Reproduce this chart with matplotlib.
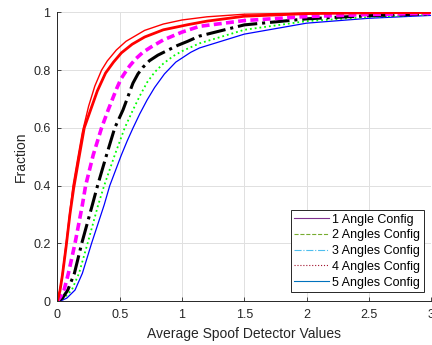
import matplotlib
matplotlib.use("Agg")
import matplotlib.pyplot as plt
from matplotlib.lines import Line2D

plt.rcParams['font.family'] = ['Liberation Sans', 'DejaVu Sans']

# curves (x, fraction)
red_thin_x = [0, 0.02, 0.04, 0.07, 0.1, 0.125, 0.165, 0.2, 0.25, 0.3, 0.354, 0.4, 0.473, 0.55, 0.7, 0.85, 1.0, 1.2, 1.5, 2.0, 2.5, 3.0]
red_thin_y = [0, 0.04, 0.096, 0.2, 0.31, 0.4, 0.5, 0.585, 0.675, 0.745, 0.8, 0.832, 0.87, 0.9, 0.938, 0.96, 0.974, 0.985, 0.994, 0.998, 0.999, 1.0]

red_thick_x = [0, 0.02, 0.04, 0.07, 0.1, 0.13, 0.17, 0.215, 0.26, 0.32, 0.386, 0.45, 0.513, 0.6, 0.7, 0.85, 1.05, 1.2, 1.5, 2.0, 2.5, 3.0]
red_thick_y = [0, 0.035, 0.09, 0.19, 0.3, 0.39, 0.49, 0.6, 0.655, 0.728, 0.79, 0.828, 0.86, 0.89, 0.915, 0.94, 0.958, 0.97, 0.987, 0.996, 0.999, 1.0]

mag_x = [0, 0.025, 0.053, 0.088, 0.141, 0.2, 0.226, 0.287, 0.354, 0.407, 0.474, 0.51, 0.54, 0.58, 0.63, 0.686, 0.75, 0.85, 1.0, 1.14, 1.5, 2.0, 2.5, 3.0]
mag_y = [0, 0.015, 0.038, 0.096, 0.2, 0.333, 0.4, 0.506, 0.6, 0.662, 0.735, 0.77, 0.79, 0.815, 0.84, 0.862, 0.88, 0.905, 0.932, 0.952, 0.972, 0.986, 0.993, 0.997]

blk_x = [0, 0.04, 0.083, 0.136, 0.195, 0.28, 0.322, 0.394, 0.46, 0.526, 0.606, 0.646, 0.686, 0.739, 0.806, 0.885, 0.965, 1.045, 1.138, 1.5, 2.0, 2.5, 3.0]
blk_y = [0, 0.01, 0.038, 0.096, 0.2, 0.333, 0.4, 0.506, 0.6, 0.662, 0.755, 0.787, 0.81, 0.833, 0.852, 0.869, 0.886, 0.9, 0.918, 0.957, 0.978, 0.989, 0.995]

grn_x = [0, 0.05, 0.115, 0.173, 0.242, 0.327, 0.375, 0.46, 0.54, 0.606, 0.66, 0.72, 0.78, 0.85, 0.93, 1.0, 1.14, 1.5, 2.0, 2.5, 3.0]
grn_y = [0, 0.01, 0.038, 0.096, 0.2, 0.333, 0.4, 0.506, 0.6, 0.662, 0.71, 0.758, 0.793, 0.823, 0.849, 0.866, 0.893, 0.94, 0.97, 0.984, 0.993]

blu_x = [0, 0.04, 0.075, 0.141, 0.2, 0.274, 0.375, 0.42, 0.513, 0.56, 0.607, 0.66, 0.72, 0.78, 0.859, 0.95, 1.07, 1.14, 1.5, 2.0, 2.5, 3.0]
blu_y = [0, 0.003, 0.01, 0.038, 0.096, 0.2, 0.333, 0.4, 0.506, 0.555, 0.6, 0.648, 0.697, 0.74, 0.787, 0.828, 0.862, 0.877, 0.925, 0.963, 0.98, 0.99]

legend_labels = ['1 Angle Config', '2 Angles Config', '3 Angles Config', '4 Angles Config', '5 Angles Config']
legend_colors = [(0.494, 0.184, 0.556), (0.466, 0.674, 0.188), (0.301, 0.745, 0.933), (0.635, 0.078, 0.184), (0, 0.447, 0.741)]
legend_styles = ['-', '--', '-.', ':', '-']

txt = (0.15, 0.15, 0.15)

fig = plt.figure(figsize=(4.32, 3.45), dpi=100)
ax = fig.add_axes([0.133, 0.1275, 0.865, 0.8363])

ax.plot(blu_x, blu_y, color=(0, 0, 1), lw=0.9)
ax.plot(grn_x, grn_y, color=(0, 1, 0), lw=1.3, ls=':')
ax.plot(blk_x, blk_y, color='k', lw=2.2, ls='-.')
ax.plot(mag_x, mag_y, color=(1, 0, 1), lw=2.6, ls='--', dashes=(2.2, 1.2))
ax.plot(red_thick_x, red_thick_y, color=(1, 0, 0), lw=2.0)
ax.plot(red_thin_x, red_thin_y, color=(1, 0, 0), lw=1.0)

ax.set_xlim(0, 3)
ax.set_ylim(0, 1)
ax.set_xticks([0, 0.5, 1, 1.5, 2, 2.5, 3])
ax.set_xticklabels(['0', '0.5', '1', '1.5', '2', '2.5', '3'])
ax.set_yticks([0, 0.2, 0.4, 0.6, 0.8, 1])
ax.set_yticklabels(['0', '0.2', '0.4', '0.6', '0.8', '1'])
ax.tick_params(direction='in', length=3, width=0.6, colors=txt, labelsize=9)
ax.tick_params(axis='x', pad=6)
ax.tick_params(axis='y', pad=5)
ax.grid(True, color=(0.88, 0.88, 0.88), lw=0.7)
ax.set_axisbelow(True)
for s in ['top', 'right']:
    ax.spines[s].set_visible(False)
for s in ['left', 'bottom']:
    ax.spines[s].set_color(txt)
    ax.spines[s].set_linewidth(0.7)

ax.set_xlabel('Average Spoof Detector Values', fontsize=10, color=txt, labelpad=4)
ax.set_ylabel('Fraction', fontsize=10, color=txt, labelpad=4)

handles = [Line2D([0], [0], color=c, ls=s, lw=0.8) for c, s in zip(legend_colors, legend_styles)]
leg = ax.legend(handles, legend_labels, loc='lower right', fontsize=9, fancybox=False,
                framealpha=1, edgecolor=txt, handlelength=2.8, handletextpad=0.2,
                labelspacing=0.3, borderpad=0.3, borderaxespad=0.0,
                bbox_to_anchor=(0.98, 0.03))
leg.get_frame().set_linewidth(0.7)

fig.savefig('out.png', dpi=100)
